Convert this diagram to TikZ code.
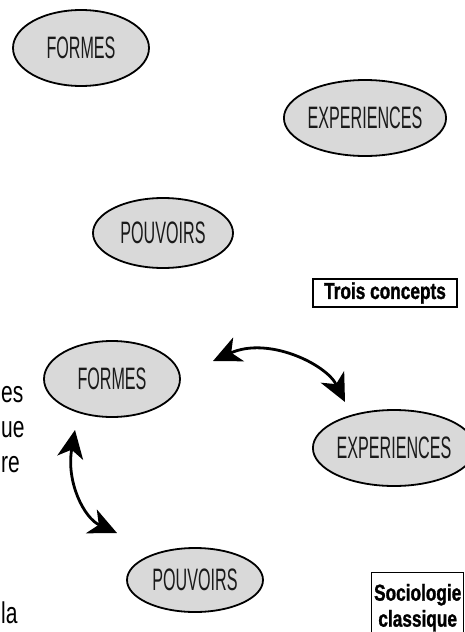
\documentclass[tikz,border=0pt]{standalone}
\usepackage{fontspec}
\usetikzlibrary{shapes.geometric,arrows.meta}
\newfontfamily\condfont[FakeStretch=0.52]{Liberation Sans}
\newfontfamily\boxfont[FakeStretch=0.75,FakeBold=1.2]{Liberation Sans Bold}
\newfontfamily\slidefont[FakeStretch=0.7]{Liberation Sans}
\definecolor{ellfill}{HTML}{D9D9D9}
\definecolor{labcol}{HTML}{1A1A1A}
\tikzset{
  concept/.style={ellipse, draw=black, line width=1.8pt, fill=ellfill,
    minimum width=136pt, minimum height=76pt, inner sep=0pt,
    font=\condfont\fontsize{31}{31}\selectfont, text=labcol},
  tagbox/.style={draw=black, line width=1.4pt, inner sep=3pt, align=center,
    font=\boxfont\fontsize{23}{26}\selectfont},
  relation/.style={line width=2.8pt, {Stealth[length=28pt,width=26pt,inset=8pt]}-{Stealth[length=28pt,width=26pt,inset=8pt]}},
  fragment/.style={anchor=base west, inner sep=0pt, font=\slidefont\fontsize{30}{30}\selectfont}
}
\begin{document}
\begin{tikzpicture}[x=1pt,y=-1pt]
\useasboundingbox (0,0) rectangle (465,632);
% top: three concepts
\node[concept] (f1) at (81,48) {FORMES};
\node[concept] (e1) at (365,118) {EXPERIENCES};
\node[concept, minimum width=140pt, minimum height=70pt] (p1) at (163,233) {POUVOIRS};
\node[tagbox, minimum width=144pt, minimum height=28pt] (t1) at (385,293) {Trois concepts};
% bottom: classical sociology
\node[concept] (f2) at (112,379) {FORMES};
\node[concept] (e2) at (394,448) {EXPERIENCES};
\node[concept, minimum height=64pt] (p2) at (195,580) {POUVOIRS};
\node[tagbox, minimum width=92pt, anchor=north west, minimum height=70pt, inner sep=1pt] (t2) at (371,572) {Sociologie\\classique};
% relations
\coordinate (a1) at (213,361);
\coordinate (b1) at (345,402);
\coordinate (a2) at (75,430);
\coordinate (b2) at (117,533);
\draw[relation] (a1) .. controls (268,336) and (326,364) .. (b1);
\draw[relation] (a2) .. controls (66,482) and (84,518) .. (b2);
% cropped slide text on the left
\node[fragment] (s1) at (1,402) {es};
\node[fragment] (s2) at (1,437) {ue};
\node[fragment] (s3) at (1,472) {re};
\node[fragment] (s4) at (1,623) {la};
\end{tikzpicture}
\end{document}
